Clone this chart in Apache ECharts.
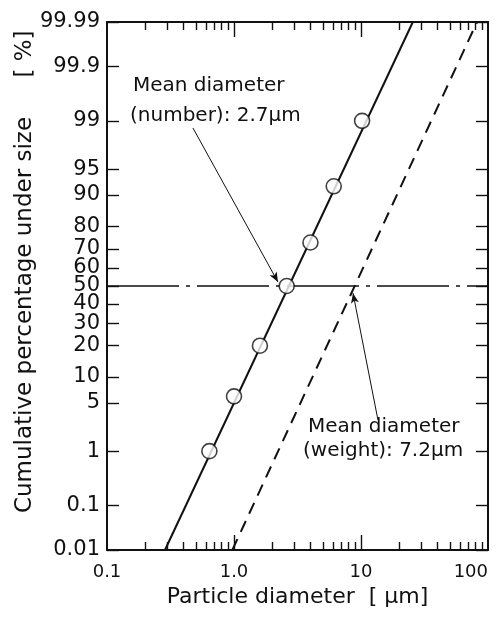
<!DOCTYPE html>
<html>
<head>
<meta charset="utf-8">
<script src="https://cdn.jsdelivr.net/npm/echarts@6/dist/echarts.min.js"></script>
<style>
  html, body { margin: 0; padding: 0; background: #fff; }
  #chart { width: 498px; height: 623px; }
</style>
</head>
<body>
<div id="chart"></div>
<script>
// particle diameter [um] and cumulative % under size
const pointD = [0.64, 1.0, 1.6, 2.6, 4.0, 6.1, 10.2]
const pointP = [1, 6, 20, 50, 73, 92, 99]
// fitted lines (number basis solid, weight basis dashed)
const numberLineD = [0.286, 25.6]
const numberLineP = [0.01, 99.99]
const weightLineD = [0.97, 82]
const weightLineP = [0.01, 99.99]
const meanLineD = [0.1, 100]
const meanLineP = [50, 50]
// annotation arrows [from, to] as [diameter, percent]
const numberArrow = [[0.475, 98.7], [2.22, 52.2]]
const weightArrow = [[13.6, 2.96], [8.65, 46]]
// tick labels
const xTicks = [0.1, 1, 10, 100]
const xTickLabels = ['0.1', '1.0', '10', '100']
const xMinorTicks = [0.2, 0.3, 0.4, 0.5, 0.6, 0.7, 0.8, 0.9, 2, 3, 4, 5, 6, 7, 8, 9, 20, 30, 40, 50, 60, 70, 80, 90]
const pctTicks = [0.01, 0.1, 1, 5, 10, 20, 30, 40, 50, 60, 70, 80, 90, 95, 99, 99.9, 99.99]
const pctLabels = ['0.01', '0.1', '1', '5', '10', '20', '30', '40', '50', '60', '70', '80', '90', '95', '99', '99.9', '99.99']

// normal quantile (probability paper axis)
function probit(p) {
  const a = [-3.969683028665376e+01, 2.209460984245205e+02, -2.759285104469687e+02, 1.383577518672690e+02, -3.066479806614716e+01, 2.506628277459239e+00]
  const b = [-5.447609879822406e+01, 1.615858368580409e+02, -1.556989798598866e+02, 6.680131188771972e+01, -1.328068155288572e+01]
  const c = [-7.784894002430293e-03, -3.223964580411365e-01, -2.400758277161838e+00, -2.549732539343734e+00, 4.374664141464968e+00, 2.938163982698783e+00]
  const d = [7.784695709041462e-03, 3.224671290700398e-01, 2.445134137142996e+00, 3.754408661907416e+00]
  const pl = 0.02425
  let q, r
  if (p < pl) {
    q = Math.sqrt(-2 * Math.log(p))
    return (((((c[0] * q + c[1]) * q + c[2]) * q + c[3]) * q + c[4]) * q + c[5]) / ((((d[0] * q + d[1]) * q + d[2]) * q + d[3]) * q + 1)
  }
  if (p <= 1 - pl) {
    q = p - 0.5
    r = q * q
    return (((((a[0] * r + a[1]) * r + a[2]) * r + a[3]) * r + a[4]) * r + a[5]) * q / (((((b[0] * r + b[1]) * r + b[2]) * r + b[3]) * r + b[4]) * r + 1)
  }
  q = Math.sqrt(-2 * Math.log(1 - p))
  return -(((((c[0] * q + c[1]) * q + c[2]) * q + c[3]) * q + c[4]) * q + c[5]) / ((((d[0] * q + d[1]) * q + d[2]) * q + d[3]) * q + 1)
}
const pz = (pct) => probit(pct / 100)
const lx = (dia) => Math.log10(dia)
const pair = (ds, ps) => ds.map((v, i) => [lx(v), pz(ps[i])])

const zTicks = pctTicks.map(pz)
const yMin = zTicks[0]
const yMax = zTicks[zTicks.length - 1]

const font = 'DejaVu Sans'
const ink = '#111'

const gridRect = { left: 107, top: 22, width: 381, height: 528 }

const tickCommon = { inside: true, lineStyle: { color: ink, width: 1.4 } }
const boxLine = { show: true, onZero: false, lineStyle: { color: ink, width: 2 } }

const option = {
  backgroundColor: '#fff',
  animation: false,
  grid: [
    Object.assign({ show: false }, gridRect),
    Object.assign({ show: false }, gridRect)
  ],
  xAxis: [
    {
      gridIndex: 0, type: 'value', position: 'bottom', min: -1, max: 2,
      axisLine: boxLine,
      axisTick: Object.assign({ length: 8, customValues: xMinorTicks.map(lx) }, tickCommon),
      axisLabel: {
        customValues: xTicks.map(lx), margin: 13, color: ink, fontFamily: font, fontSize: 18,
        alignMaxLabel: 'right',
        formatter: (v) => xTickLabels[xTicks.findIndex(t => Math.abs(lx(t) - v) < 1e-9)]
      },
      splitLine: { show: false },
      name: 'Particle diameter  [ µm]', nameLocation: 'middle', nameGap: 36,
      nameTextStyle: { color: ink, fontFamily: font, fontSize: 22, verticalAlign: 'top' }
    },
    {
      gridIndex: 0, type: 'value', position: 'top', min: -1, max: 2,
      axisLine: boxLine,
      axisTick: Object.assign({ length: 8, customValues: xMinorTicks.map(lx) }, tickCommon),
      axisLabel: { show: false }, splitLine: { show: false }
    },
    {
      gridIndex: 1, type: 'value', position: 'bottom', min: -1, max: 2,
      axisLine: { show: false, onZero: false },
      axisTick: Object.assign({ length: 15, customValues: [0, 1] }, tickCommon),
      axisLabel: { show: false }, splitLine: { show: false }
    },
    {
      gridIndex: 1, type: 'value', position: 'top', min: -1, max: 2,
      axisLine: { show: false, onZero: false },
      axisTick: Object.assign({ length: 15, customValues: [0, 1] }, tickCommon),
      axisLabel: { show: false }, splitLine: { show: false }
    }
  ],
  yAxis: [
    {
      gridIndex: 0, type: 'value', position: 'left', min: yMin, max: yMax,
      axisLine: boxLine,
      axisTick: Object.assign({ length: 12, customValues: zTicks }, tickCommon),
      axisLabel: {
        customValues: zTicks, margin: 7, color: ink, fontFamily: font, fontSize: 21,
        formatter: (v) => pctLabels[zTicks.findIndex(t => Math.abs(t - v) < 1e-9)]
      },
      splitLine: { show: false }
    },
    {
      gridIndex: 0, type: 'value', position: 'right', min: yMin, max: yMax,
      axisLine: boxLine,
      axisTick: Object.assign({ length: 12, customValues: zTicks }, tickCommon),
      axisLabel: { show: false }, splitLine: { show: false }
    },
    { gridIndex: 1, type: 'value', min: yMin, max: yMax, show: false, axisLine: { onZero: false } }
  ],
  series: [
    {
      type: 'line', xAxisIndex: 0, yAxisIndex: 0, symbol: 'none',
      data: pair(meanLineD, meanLineP),
      lineStyle: { color: ink, width: 1.3, type: [72, 7, 4, 7] }
    },
    {
      type: 'line', xAxisIndex: 0, yAxisIndex: 0, symbol: 'none',
      data: pair(weightLineD, weightLineP),
      lineStyle: { color: ink, width: 2, type: [12, 8] },
      markLine: {
        silent: true, symbol: ['none', 'arrow'], symbolSize: [6, 10],
        label: { show: false },
        lineStyle: { color: ink, width: 1, type: 'solid' },
        data: [
          [{ coord: [lx(weightArrow[0][0]), pz(weightArrow[0][1])] }, { coord: [lx(weightArrow[1][0]), pz(weightArrow[1][1])] }],
          [{ coord: [lx(numberArrow[0][0]), pz(numberArrow[0][1])] }, { coord: [lx(numberArrow[1][0]), pz(numberArrow[1][1])] }]
        ]
      }
    },
    {
      type: 'line', xAxisIndex: 0, yAxisIndex: 0, symbol: 'none',
      data: pair(numberLineD, numberLineP),
      lineStyle: { color: ink, width: 2 }
    },
    {
      type: 'scatter', xAxisIndex: 0, yAxisIndex: 0, symbol: 'circle', symbolSize: 15,
      data: pair(pointD, pointP),
      itemStyle: { color: '#fff', borderColor: ink, borderWidth: 1.6 },
      z: 5
    }
  ],
  graphic: [
    {
      type: 'text', x: 25, y: 315, rotation: Math.PI / 2,
      style: { text: 'Cumulative percentage under size', font: '23px "DejaVu Sans"', fill: ink, align: 'center', verticalAlign: 'middle' }
    },
    {
      type: 'text', x: 25, y: 54, rotation: Math.PI / 2,
      style: { text: '[ %]', font: '23px "DejaVu Sans"', fill: ink, align: 'center', verticalAlign: 'middle' }
    },
    { type: 'text', left: 133, top: 76, style: { text: 'Mean diameter', font: '20px "DejaVu Sans"', fill: ink } },
    { type: 'text', left: 130, top: 106, style: { text: '(number): 2.7µm', font: '20px "DejaVu Sans"', fill: ink } },
    { type: 'text', left: 308, top: 417, style: { text: 'Mean diameter', font: '20px "DejaVu Sans"', fill: ink } },
    { type: 'text', left: 303, top: 441, style: { text: '(weight): 7.2µm', font: '20px "DejaVu Sans"', fill: ink } }
  ]
}

const chart = echarts.init(document.getElementById('chart'))
chart.setOption(option)
</script>
</body>
</html>
